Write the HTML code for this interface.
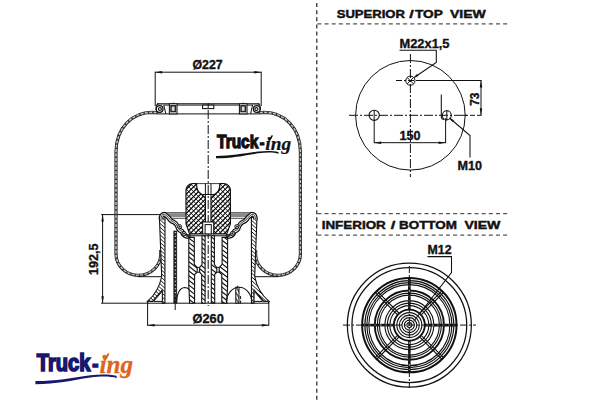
<!DOCTYPE html>
<html><head><meta charset="utf-8"><title>Truck-ing air spring</title>
<style>
html,body{margin:0;padding:0;background:#fff;}
body{width:600px;height:400px;overflow:hidden;}
svg{display:block;}
text{font-family:"Liberation Sans",Arial,sans-serif;font-weight:bold;fill:#111;stroke:#111;stroke-width:0.35px;}
</style></head><body>
<svg width="600" height="400" viewBox="0 0 600 400" stroke="#111" fill="none" stroke-linecap="butt">
<defs>
<pattern id="h1" width="3" height="3" patternUnits="userSpaceOnUse" patternTransform="rotate(-45)"><rect width="3" height="3" fill="#fff" stroke="none"/><line x1="0" y1="1.5" x2="3" y2="1.5" stroke="#111" stroke-width="0.9"/></pattern>
<pattern id="h2" width="3.1" height="3.1" patternUnits="userSpaceOnUse" patternTransform="rotate(58)"><rect width="3.1" height="3.1" fill="#fff" stroke="none"/><line x1="0" y1="1.55" x2="3.1" y2="1.55" stroke="#111" stroke-width="1.0"/></pattern>
<pattern id="hx" width="3.4" height="3.4" patternUnits="userSpaceOnUse" patternTransform="rotate(-47)"><rect width="3.4" height="3.4" fill="#fff" stroke="none"/><line x1="0" y1="1.7" x2="3.4" y2="1.7" stroke="#000" stroke-width="1.15"/><line x1="1.7" y1="0" x2="1.7" y2="3.4" stroke="#000" stroke-width="0.6"/></pattern>
<pattern id="h1m" width="3" height="3" patternUnits="userSpaceOnUse" patternTransform="rotate(45)"><rect width="3" height="3" fill="#fff" stroke="none"/><line x1="0" y1="1.5" x2="3" y2="1.5" stroke="#111" stroke-width="0.9"/></pattern>
<pattern id="hw" width="2.4" height="2.4" patternUnits="userSpaceOnUse" patternTransform="rotate(-35)"><rect width="2.4" height="2.4" fill="#fff" stroke="none"/><line x1="0" y1="1.2" x2="2.4" y2="1.2" stroke="#333" stroke-width="0.6"/></pattern>
</defs>
<g stroke="#222" stroke-dasharray="4 3.143">
<line x1="316.80" y1="3.00" x2="316.80" y2="400.00" stroke-width="1.2" />
</g>
<g stroke="#555" stroke-width="1.25" stroke-dasharray="4 3.143">
<line x1="317.40" y1="23.80" x2="508.00" y2="23.80" stroke-width="1.25" />
<line x1="317.40" y1="213.60" x2="508.00" y2="213.60" stroke-width="1.25" />
<line x1="317.40" y1="235.00" x2="508.00" y2="235.00" stroke-width="1.25" />
</g>
<text font-size="11.6" style="stroke:#111;stroke-width:0.45px"><tspan x="336.70" y="17.50" textLength="68.30" lengthAdjust="spacingAndGlyphs">SUPERIOR</tspan> <tspan x="409.20" y="17.50" textLength="4.50" lengthAdjust="spacingAndGlyphs">/</tspan> <tspan x="415.00" y="17.50" textLength="27.50" lengthAdjust="spacingAndGlyphs">TOP</tspan> <tspan x="450.00" y="17.50" textLength="35.80" lengthAdjust="spacingAndGlyphs">VIEW</tspan></text>
<text font-size="11.6" style="stroke:#111;stroke-width:0.45px"><tspan x="321.70" y="229.20" textLength="64.10" lengthAdjust="spacingAndGlyphs">INFERIOR</tspan> <tspan x="390.80" y="229.20" textLength="4.60" lengthAdjust="spacingAndGlyphs">/</tspan> <tspan x="399.00" y="229.20" textLength="58.00" lengthAdjust="spacingAndGlyphs">BOTTOM</tspan> <tspan x="464.40" y="229.20" textLength="36.00" lengthAdjust="spacingAndGlyphs">VIEW</tspan></text>
<circle cx="410.4" cy="115.3" r="54.8" stroke-width="1"/>
<line x1="410.40" y1="54.00" x2="410.40" y2="177.00" stroke-width="1.0" stroke-dasharray="9 2 2 2"/>
<line x1="349.00" y1="115.30" x2="467.00" y2="115.30" stroke-width="1.0" stroke-dasharray="9 2 2 2"/>
<circle cx="410.4" cy="80.7" r="4.6" stroke-width="1"/>
<line x1="407.20" y1="77.50" x2="413.60" y2="83.90" stroke-width="1.0" />
<line x1="407.20" y1="83.90" x2="413.60" y2="77.50" stroke-width="1.0" />
<circle cx="374.2" cy="115.3" r="5.1" stroke-width="1.1"/>
<circle cx="446.8" cy="115.3" r="4.5" stroke-width="1.1"/>
<line x1="396.00" y1="80.50" x2="418.00" y2="80.50" stroke-width="1.0" stroke-dasharray="6 2 2 2"/>
<line x1="418.00" y1="80.50" x2="481.50" y2="80.50" stroke-width="1.0" />
<line x1="463.00" y1="115.30" x2="481.50" y2="115.30" stroke-width="1.0" stroke-dasharray="5 2"/>
<line x1="481.00" y1="80.50" x2="481.00" y2="115.30" stroke-width="1.0" />
<polygon points="481.00,80.50 482.25,87.50 479.75,87.50" fill="#111" stroke="none"/>
<polygon points="481.00,115.30 479.75,108.30 482.25,108.30" fill="#111" stroke="none"/>
<text transform="translate(478.5,99.2) rotate(-90)" font-size="12.4" text-anchor="middle" textLength="13.2" lengthAdjust="spacingAndGlyphs">73</text>
<text x="399.50" y="47.60" font-size="12.6" text-anchor="start" textLength="50" lengthAdjust="spacingAndGlyphs">M22x1,5</text>
<path d="M399.5 50.3 H436.3 V62.5 L414.5 77.2" stroke-width="1.05" fill="none" />
<polygon points="413.60,77.80 417.07,74.01 418.42,76.00" fill="#111" stroke="none"/>
<line x1="374.20" y1="110.10" x2="374.20" y2="143.20" stroke-width="1.0" />
<line x1="445.60" y1="118.30" x2="445.60" y2="143.20" stroke-width="1.0" />
<line x1="446.80" y1="110.30" x2="446.80" y2="120.80" stroke-width="1.0" />
<line x1="374.20" y1="142.70" x2="445.60" y2="142.70" stroke-width="1.0" />
<polygon points="374.20,142.70 381.20,141.45 381.20,143.95" fill="#111" stroke="none"/>
<polygon points="445.60,142.70 438.60,143.95 438.60,141.45" fill="#111" stroke="none"/>
<text x="399.50" y="140.00" font-size="12.6" text-anchor="start" textLength="21" lengthAdjust="spacingAndGlyphs">150</text>
<path d="M441.3 94.5 V117 Q441.6 119.5 444 119.6" stroke-width="1.05" fill="none" />
<path d="M449.5 118 L470 135.5 V157.5" stroke-width="1.05" fill="none" />
<polygon points="449.30,117.80 453.88,120.13 452.32,121.96" fill="#111" stroke="none"/>
<text x="457.50" y="169.50" font-size="12.6" text-anchor="start" textLength="24.5" lengthAdjust="spacingAndGlyphs">M10</text>
<circle cx="409.35" cy="325.1" r="62.0" stroke-width="1.25"/>
<circle cx="409.35" cy="325.1" r="57.4" stroke-width="1.25"/>
<circle cx="409.35" cy="325.1" r="47.2" stroke-width="2.0"/>
<circle cx="409.35" cy="325.1" r="44.5" stroke-width="1.1"/>
<circle cx="409.35" cy="325.1" r="42.5" stroke-width="1.1"/>
<circle cx="409.35" cy="325.1" r="40.5" stroke-width="1.1"/>
<circle cx="409.35" cy="325.1" r="34.6" stroke-width="1.9"/>
<circle cx="409.35" cy="325.1" r="32.0" stroke-width="1.1"/>
<circle cx="409.35" cy="325.1" r="30.0" stroke-width="1.1"/>
<circle cx="409.35" cy="325.1" r="24.5" stroke-width="1.1"/>
<circle cx="409.35" cy="325.1" r="22.0" stroke-width="1.1"/>
<circle cx="409.35" cy="325.1" r="19.5" stroke-width="1.1"/>
<circle cx="409.35" cy="325.1" r="15.5" stroke-width="1.9"/>
<circle cx="409.35" cy="325.1" r="12.5" stroke-width="1.1"/>
<circle cx="409.35" cy="325.1" r="10.0" stroke-width="1.1"/>
<circle cx="409.35" cy="325.1" r="7.5" stroke-width="1.1"/>
<circle cx="409.35" cy="325.1" r="5.0" stroke-width="1.1"/>
<circle cx="409.35" cy="325.1" r="2.5" stroke-width="1.05"/>
<line x1="421.44" y1="335.64" x2="443.50" y2="357.70" stroke-width="1.1" />
<line x1="419.89" y1="337.19" x2="441.95" y2="359.25" stroke-width="1.1" />
<line x1="398.81" y1="337.19" x2="376.75" y2="359.25" stroke-width="1.1" />
<line x1="397.26" y1="335.64" x2="375.20" y2="357.70" stroke-width="1.1" />
<line x1="397.26" y1="314.56" x2="375.20" y2="292.50" stroke-width="1.1" />
<line x1="398.81" y1="313.01" x2="376.75" y2="290.95" stroke-width="1.1" />
<line x1="419.89" y1="313.01" x2="441.95" y2="290.95" stroke-width="1.1" />
<line x1="421.44" y1="314.56" x2="443.50" y2="292.50" stroke-width="1.1" />
<line x1="424.85" y1="325.10" x2="456.55" y2="325.10" stroke-width="2.6" />
<line x1="426.35" y1="325.10" x2="454.35" y2="325.10" stroke-width="0.7" stroke="#fff" stroke-dasharray="2.2 3.2"/>
<line x1="409.35" y1="340.60" x2="409.35" y2="372.30" stroke-width="2.6" />
<line x1="409.35" y1="342.10" x2="409.35" y2="370.10" stroke-width="0.7" stroke="#fff" stroke-dasharray="2.2 3.2"/>
<line x1="393.85" y1="325.10" x2="362.15" y2="325.10" stroke-width="2.6" />
<line x1="392.35" y1="325.10" x2="364.35" y2="325.10" stroke-width="0.7" stroke="#fff" stroke-dasharray="2.2 3.2"/>
<line x1="409.35" y1="309.60" x2="409.35" y2="277.90" stroke-width="2.6" />
<line x1="409.35" y1="308.10" x2="409.35" y2="280.10" stroke-width="0.7" stroke="#fff" stroke-dasharray="2.2 3.2"/>
<line x1="409.35" y1="266.00" x2="409.35" y2="388.00" stroke-width="1.0" stroke-dasharray="7 2 2 2"/>
<line x1="343.00" y1="325.10" x2="476.00" y2="325.10" stroke-width="1.0" stroke-dasharray="7 2 2 2"/>
<line x1="407.75" y1="323.50" x2="410.95" y2="326.70" stroke-width="0.6" />
<line x1="407.75" y1="326.70" x2="410.95" y2="323.50" stroke-width="0.6" />
<text x="427.50" y="254.00" font-size="12.6" text-anchor="start" textLength="24" lengthAdjust="spacingAndGlyphs">M12</text>
<path d="M427.5 256.6 H451.5 V272.5 L413.5 321.5" stroke-width="1.05" fill="none" />
<line x1="155.20" y1="71.70" x2="155.20" y2="106.00" stroke-width="1.0" />
<line x1="261.20" y1="71.70" x2="261.20" y2="106.00" stroke-width="1.0" />
<line x1="155.20" y1="72.20" x2="261.20" y2="72.20" stroke-width="1.0" />
<polygon points="155.20,72.20 162.20,70.95 162.20,73.45" fill="#111" stroke="none"/>
<polygon points="261.20,72.20 254.20,73.45 254.20,70.95" fill="#111" stroke="none"/>
<text x="207.6" y="69.0" font-size="12.6" text-anchor="middle" textLength="30.2" lengthAdjust="spacingAndGlyphs">Ø227</text>
<line x1="147.60" y1="301.00" x2="147.60" y2="325.70" stroke-width="1.0" />
<line x1="268.80" y1="301.00" x2="268.80" y2="325.70" stroke-width="1.0" />
<line x1="147.60" y1="325.20" x2="268.80" y2="325.20" stroke-width="1.0" />
<polygon points="147.60,325.20 154.60,323.95 154.60,326.45" fill="#111" stroke="none"/>
<polygon points="268.80,325.20 261.80,326.45 261.80,323.95" fill="#111" stroke="none"/>
<text x="208.2" y="322.6" font-size="12.6" text-anchor="middle" textLength="31.2" lengthAdjust="spacingAndGlyphs">Ø260</text>
<line x1="101.20" y1="214.60" x2="162.00" y2="214.60" stroke-width="1.0" />
<line x1="101.20" y1="303.20" x2="147.60" y2="303.20" stroke-width="1.0" />
<line x1="102.60" y1="214.60" x2="102.60" y2="303.20" stroke-width="1.0" />
<polygon points="102.60,214.60 103.85,221.60 101.35,221.60" fill="#111" stroke="none"/>
<polygon points="102.60,303.20 101.35,296.20 103.85,296.20" fill="#111" stroke="none"/>
<text transform="translate(98.2,259.3) rotate(-90)" font-size="12.6" text-anchor="middle" textLength="31.5" lengthAdjust="spacingAndGlyphs">192,5</text>
<path d="M158.00,112.80 L152.00,112.30 C133.00,112.30 116.00,127.00 116.00,152.00 L116.00,254.00 A22.4,21.3 0 0 0 138.40,275.30 A22.4,21.3 0 0 0 160.80,254.00 L160.80,250.00" stroke="#222" stroke-width="3.2" fill="none"/>
<path d="M158.00,112.80 L152.00,112.30 C133.00,112.30 116.00,127.00 116.00,152.00 L116.00,254.00 A22.4,21.3 0 0 0 138.40,275.30 A22.4,21.3 0 0 0 160.80,254.00 L160.80,250.00" stroke="#c4c4c4" stroke-width="1.5" fill="none"/>
<path d="M158.00,112.80 L152.00,112.30 C133.00,112.30 116.00,127.00 116.00,152.00 L116.00,254.00 A22.4,21.3 0 0 0 138.40,275.30 A22.4,21.3 0 0 0 160.80,254.00 L160.80,250.00" stroke="#222" stroke-width="1.7" fill="none" stroke-dasharray="1.4 3.0"/>
<line x1="138.00" y1="276.70" x2="161.50" y2="276.70" stroke-width="1.0" />
<path d="M258.40,112.80 L264.40,112.30 C283.40,112.30 300.40,127.00 300.40,152.00 L300.40,254.00 A22.4,21.3 0 0 1 278.00,275.30 A22.4,21.3 0 0 1 255.60,254.00 L255.60,250.00" stroke="#222" stroke-width="3.2" fill="none"/>
<path d="M258.40,112.80 L264.40,112.30 C283.40,112.30 300.40,127.00 300.40,152.00 L300.40,254.00 A22.4,21.3 0 0 1 278.00,275.30 A22.4,21.3 0 0 1 255.60,254.00 L255.60,250.00" stroke="#c4c4c4" stroke-width="1.5" fill="none"/>
<path d="M258.40,112.80 L264.40,112.30 C283.40,112.30 300.40,127.00 300.40,152.00 L300.40,254.00 A22.4,21.3 0 0 1 278.00,275.30 A22.4,21.3 0 0 1 255.60,254.00 L255.60,250.00" stroke="#222" stroke-width="1.7" fill="none" stroke-dasharray="1.4 3.0"/>
<line x1="278.40" y1="276.70" x2="254.90" y2="276.70" stroke-width="1.0" />
<line x1="157.00" y1="103.80" x2="259.40" y2="103.80" stroke-width="1.3" />
<line x1="164.00" y1="105.30" x2="252.40" y2="105.30" stroke-width="0.7" />
<line x1="158.00" y1="113.90" x2="258.40" y2="113.90" stroke-width="1.0" />
<circle cx="159.60" cy="109" r="3.4" stroke-width="1.3" fill="#fff"/>
<circle cx="159.90" cy="109" r="1.5" stroke-width="1.1" fill="#ddd"/>
<path d="M156.20,110 Q155.60,104.2 158.50,103.8" stroke-width="1.05" fill="none" />
<line x1="163.80" y1="105.00" x2="165.80" y2="113.90" stroke-width="1.0" />
<rect x="169.40" y="103.8" width="7.60" height="10.1" stroke-width="1.05" fill="#fff"/>
<rect x="171.00" y="105.8" width="4.40" height="5.8" stroke-width="1.5" stroke="#222" fill="#ddd"/>
<line x1="173.20" y1="102.60" x2="173.20" y2="104.00" stroke-width="1.0" />
<circle cx="256.80" cy="109" r="3.4" stroke-width="1.3" fill="#fff"/>
<circle cx="256.50" cy="109" r="1.5" stroke-width="1.1" fill="#ddd"/>
<path d="M260.20,110 Q260.80,104.2 257.90,103.8" stroke-width="1.05" fill="none" />
<line x1="252.60" y1="105.00" x2="250.60" y2="113.90" stroke-width="1.0" />
<rect x="239.40" y="103.8" width="7.60" height="10.1" stroke-width="1.05" fill="#fff"/>
<rect x="241.00" y="105.8" width="4.40" height="5.8" stroke-width="1.5" stroke="#222" fill="#ddd"/>
<line x1="243.20" y1="102.60" x2="243.20" y2="104.00" stroke-width="1.0" />
<rect x="202.6" y="105.1" width="11.2" height="3.5" stroke-width="1.05" fill="#fff"/>
<line x1="208.20" y1="103.00" x2="208.20" y2="108.60" stroke-width="1.0" />
<line x1="208.20" y1="110.00" x2="208.20" y2="306.00" stroke-width="1.0" stroke-dasharray="9 2 2 2"/>
<path d="M159.50,219.50 Q159.50,213.40 163.60,213.00 L165.00,218.00 L164.90,303.20 L162.30,303.20 L162.30,290.00 L152.60,301.40 L147.60,301.20 Q158.50,292.00 161.70,276.50 Z" fill="#fff" stroke="none"/>
<clipPath id="c1"><path d="M159.50,219.50 Q159.50,213.40 163.60,213.00 L165.00,218.00 L164.90,303.20 L162.30,303.20 L162.30,290.00 L152.60,301.40 L147.60,301.20 Q158.50,292.00 161.70,276.50 Z"/></clipPath>
<g clip-path="url(#c1)" stroke="#111" stroke-width="0.95"><line x1="153.83" y1="187.78" x2="226.62" y2="253.31"/><line x1="151.96" y1="189.86" x2="224.74" y2="255.39"/><line x1="150.08" y1="191.94" x2="222.87" y2="257.47"/><line x1="148.21" y1="194.02" x2="221.00" y2="259.56"/><line x1="146.34" y1="196.10" x2="219.12" y2="261.64"/><line x1="144.46" y1="198.18" x2="217.25" y2="263.72"/><line x1="142.59" y1="200.26" x2="215.38" y2="265.80"/><line x1="140.72" y1="202.34" x2="213.50" y2="267.88"/><line x1="138.84" y1="204.42" x2="211.63" y2="269.96"/><line x1="136.97" y1="206.50" x2="209.75" y2="272.04"/><line x1="135.10" y1="208.59" x2="207.88" y2="274.12"/><line x1="133.22" y1="210.67" x2="206.01" y2="276.20"/><line x1="131.35" y1="212.75" x2="204.13" y2="278.28"/><line x1="129.48" y1="214.83" x2="202.26" y2="280.36"/><line x1="127.60" y1="216.91" x2="200.39" y2="282.44"/><line x1="125.73" y1="218.99" x2="198.51" y2="284.53"/><line x1="123.85" y1="221.07" x2="196.64" y2="286.61"/><line x1="121.98" y1="223.15" x2="194.77" y2="288.69"/><line x1="120.11" y1="225.23" x2="192.89" y2="290.77"/><line x1="118.23" y1="227.31" x2="191.02" y2="292.85"/><line x1="116.36" y1="229.39" x2="189.15" y2="294.93"/><line x1="114.49" y1="231.47" x2="187.27" y2="297.01"/><line x1="112.61" y1="233.56" x2="185.40" y2="299.09"/><line x1="110.74" y1="235.64" x2="183.52" y2="301.17"/><line x1="108.87" y1="237.72" x2="181.65" y2="303.25"/><line x1="106.99" y1="239.80" x2="179.78" y2="305.33"/><line x1="105.12" y1="241.88" x2="177.90" y2="307.41"/><line x1="103.25" y1="243.96" x2="176.03" y2="309.50"/><line x1="101.37" y1="246.04" x2="174.16" y2="311.58"/><line x1="99.50" y1="248.12" x2="172.28" y2="313.66"/><line x1="97.62" y1="250.20" x2="170.41" y2="315.74"/><line x1="95.75" y1="252.28" x2="168.54" y2="317.82"/><line x1="93.88" y1="254.36" x2="166.66" y2="319.90"/><line x1="92.00" y1="256.44" x2="164.79" y2="321.98"/><line x1="90.13" y1="258.53" x2="162.92" y2="324.06"/><line x1="88.26" y1="260.61" x2="161.04" y2="326.14"/></g>
<path d="M159.50,219.50 Q159.50,213.40 163.60,213.00 L165.00,218.00 L164.90,303.20 L162.30,303.20 L162.30,290.00 L152.60,301.40 L147.60,301.20 Q158.50,292.00 161.70,276.50 Z" fill="none" stroke-width="1.1"/>
<path d="M162.30,291.20 L162.30,301.40 L153.60,301.40 Z" fill="#fff" stroke-width="1.0"/>
<line x1="147.60" y1="301.20" x2="147.60" y2="303.20" stroke-width="1.05" />
<path d="M256.90,219.50 Q256.90,213.40 252.80,213.00 L251.40,218.00 L251.50,303.20 L254.10,303.20 L254.10,290.00 L263.80,301.40 L268.80,301.20 Q257.90,292.00 254.70,276.50 Z" fill="#fff" stroke="none"/>
<clipPath id="c2"><path d="M256.90,219.50 Q256.90,213.40 252.80,213.00 L251.40,218.00 L251.50,303.20 L254.10,303.20 L254.10,290.00 L263.80,301.40 L268.80,301.20 Q257.90,292.00 254.70,276.50 Z"/></clipPath>
<g clip-path="url(#c2)" stroke="#111" stroke-width="0.95"><line x1="257.23" y1="187.78" x2="330.02" y2="253.31"/><line x1="255.36" y1="189.86" x2="328.14" y2="255.39"/><line x1="253.48" y1="191.94" x2="326.27" y2="257.47"/><line x1="251.61" y1="194.02" x2="324.40" y2="259.56"/><line x1="249.74" y1="196.10" x2="322.52" y2="261.64"/><line x1="247.86" y1="198.18" x2="320.65" y2="263.72"/><line x1="245.99" y1="200.26" x2="318.78" y2="265.80"/><line x1="244.12" y1="202.34" x2="316.90" y2="267.88"/><line x1="242.24" y1="204.42" x2="315.03" y2="269.96"/><line x1="240.37" y1="206.50" x2="313.15" y2="272.04"/><line x1="238.50" y1="208.59" x2="311.28" y2="274.12"/><line x1="236.62" y1="210.67" x2="309.41" y2="276.20"/><line x1="234.75" y1="212.75" x2="307.53" y2="278.28"/><line x1="232.88" y1="214.83" x2="305.66" y2="280.36"/><line x1="231.00" y1="216.91" x2="303.79" y2="282.44"/><line x1="229.13" y1="218.99" x2="301.91" y2="284.53"/><line x1="227.25" y1="221.07" x2="300.04" y2="286.61"/><line x1="225.38" y1="223.15" x2="298.17" y2="288.69"/><line x1="223.51" y1="225.23" x2="296.29" y2="290.77"/><line x1="221.63" y1="227.31" x2="294.42" y2="292.85"/><line x1="219.76" y1="229.39" x2="292.55" y2="294.93"/><line x1="217.89" y1="231.47" x2="290.67" y2="297.01"/><line x1="216.01" y1="233.56" x2="288.80" y2="299.09"/><line x1="214.14" y1="235.64" x2="286.92" y2="301.17"/><line x1="212.27" y1="237.72" x2="285.05" y2="303.25"/><line x1="210.39" y1="239.80" x2="283.18" y2="305.33"/><line x1="208.52" y1="241.88" x2="281.30" y2="307.41"/><line x1="206.65" y1="243.96" x2="279.43" y2="309.50"/><line x1="204.77" y1="246.04" x2="277.56" y2="311.58"/><line x1="202.90" y1="248.12" x2="275.68" y2="313.66"/><line x1="201.02" y1="250.20" x2="273.81" y2="315.74"/><line x1="199.15" y1="252.28" x2="271.94" y2="317.82"/><line x1="197.28" y1="254.36" x2="270.06" y2="319.90"/><line x1="195.40" y1="256.44" x2="268.19" y2="321.98"/><line x1="193.53" y1="258.53" x2="266.32" y2="324.06"/><line x1="191.66" y1="260.61" x2="264.44" y2="326.14"/></g>
<path d="M256.90,219.50 Q256.90,213.40 252.80,213.00 L251.40,218.00 L251.50,303.20 L254.10,303.20 L254.10,290.00 L263.80,301.40 L268.80,301.20 Q257.90,292.00 254.70,276.50 Z" fill="none" stroke-width="1.1"/>
<path d="M254.10,291.20 L254.10,301.40 L262.80,301.40 Z" fill="#fff" stroke-width="1.0"/>
<line x1="268.80" y1="301.20" x2="268.80" y2="303.20" stroke-width="1.05" />
<line x1="147.60" y1="303.20" x2="268.80" y2="303.20" stroke-width="1.0" />
<line x1="163.60" y1="212.90" x2="186.40" y2="212.90" stroke-width="1.0" />
<rect x="167.50" y="213.3" width="18.90" height="3.9" fill="#8a8a8a" stroke="none"/>
<line x1="169.00" y1="218.40" x2="186.40" y2="218.40" stroke-width="0.7" />
<path d="M161.00,219.50 Q160.80,214.20 164.60,214.20 L168.50,217.60 Q171.00,221.40 173.40,221.80 Q176.60,223.60 177.60,226.60 Q178.60,230.40 181.80,231.00 Q183.40,235.80 187.00,236.40 L190.50,236.60" stroke="#111" stroke-width="4.8" fill="none" stroke-linejoin="round"/>
<path d="M161.00,219.50 Q160.80,214.20 164.60,214.20 L168.50,217.60 Q171.00,221.40 173.40,221.80 Q176.60,223.60 177.60,226.60 Q178.60,230.40 181.80,231.00 Q183.40,235.80 187.00,236.40 L190.50,236.60" stroke="#fff" stroke-width="2.3" fill="none" stroke-linejoin="round"/>
<path d="M161.00,219.50 Q160.80,214.20 164.60,214.20 L168.50,217.60 Q171.00,221.40 173.40,221.80 Q176.60,223.60 177.60,226.60 Q178.60,230.40 181.80,231.00 Q183.40,235.80 187.00,236.40 L190.50,236.60" stroke="#222" stroke-width="0.9" fill="none"/>
<circle cx="179.60" cy="226.6" r="2.0" stroke-width="1.0" fill="#fff"/>
<circle cx="179.60" cy="226.6" r="0.7" stroke-width="0.8" fill="#555"/>
<circle cx="184.00" cy="233.4" r="2.0" stroke-width="1.0" fill="#fff"/>
<circle cx="184.00" cy="233.4" r="0.7" stroke-width="0.8" fill="#555"/>
<line x1="252.80" y1="212.90" x2="230.00" y2="212.90" stroke-width="1.0" />
<rect x="230.00" y="213.3" width="18.90" height="3.9" fill="#8a8a8a" stroke="none"/>
<line x1="247.40" y1="218.40" x2="230.00" y2="218.40" stroke-width="0.7" />
<path d="M255.40,219.50 Q255.60,214.20 251.80,214.20 L247.90,217.60 Q245.40,221.40 243.00,221.80 Q239.80,223.60 238.80,226.60 Q237.80,230.40 234.60,231.00 Q233.00,235.80 229.40,236.40 L225.90,236.60" stroke="#111" stroke-width="4.8" fill="none" stroke-linejoin="round"/>
<path d="M255.40,219.50 Q255.60,214.20 251.80,214.20 L247.90,217.60 Q245.40,221.40 243.00,221.80 Q239.80,223.60 238.80,226.60 Q237.80,230.40 234.60,231.00 Q233.00,235.80 229.40,236.40 L225.90,236.60" stroke="#fff" stroke-width="2.3" fill="none" stroke-linejoin="round"/>
<path d="M255.40,219.50 Q255.60,214.20 251.80,214.20 L247.90,217.60 Q245.40,221.40 243.00,221.80 Q239.80,223.60 238.80,226.60 Q237.80,230.40 234.60,231.00 Q233.00,235.80 229.40,236.40 L225.90,236.60" stroke="#222" stroke-width="0.9" fill="none"/>
<circle cx="236.80" cy="226.6" r="2.0" stroke-width="1.0" fill="#fff"/>
<circle cx="236.80" cy="226.6" r="0.7" stroke-width="0.8" fill="#555"/>
<circle cx="232.40" cy="233.4" r="2.0" stroke-width="1.0" fill="#fff"/>
<circle cx="232.40" cy="233.4" r="0.7" stroke-width="0.8" fill="#555"/>
<path d="M189.60,233.90 L186.00,224.00 L186.00,189.60 Q186.80,184.00 193.00,183.50 L196.50,183.50 Q196.40,192.00 202.00,194.50 L205.40,198.00 L205.40,222.00 L202.70,222.00 L202.70,233.90 Z" fill="#fff" stroke="none"/>
<clipPath id="c3"><path d="M189.60,233.90 L186.00,224.00 L186.00,189.60 Q186.80,184.00 193.00,183.50 L196.50,183.50 Q196.40,192.00 202.00,194.50 L205.40,198.00 L205.40,222.00 L202.70,222.00 L202.70,233.90 Z"/></clipPath>
<g clip-path="url(#c3)" stroke="#000" stroke-width="1.2"><line x1="153.58" y1="207.64" x2="195.14" y2="166.08"/><line x1="155.98" y1="210.05" x2="197.55" y2="168.48"/><line x1="158.39" y1="212.45" x2="199.95" y2="170.89"/><line x1="160.79" y1="214.86" x2="202.36" y2="173.29"/><line x1="163.20" y1="217.26" x2="204.76" y2="175.70"/><line x1="165.60" y1="219.67" x2="207.17" y2="178.10"/><line x1="168.01" y1="222.07" x2="209.57" y2="180.51"/><line x1="170.41" y1="224.47" x2="211.97" y2="182.91"/><line x1="172.81" y1="226.88" x2="214.38" y2="185.31"/><line x1="175.22" y1="229.28" x2="216.78" y2="187.72"/><line x1="177.62" y1="231.69" x2="219.19" y2="190.12"/><line x1="180.03" y1="234.09" x2="221.59" y2="192.53"/><line x1="182.43" y1="236.49" x2="223.99" y2="194.93"/><line x1="184.83" y1="238.90" x2="226.40" y2="197.33"/><line x1="187.24" y1="241.30" x2="228.80" y2="199.74"/><line x1="189.64" y1="243.71" x2="231.21" y2="202.14"/><line x1="192.05" y1="246.11" x2="233.61" y2="204.55"/><line x1="194.45" y1="248.52" x2="236.02" y2="206.95"/></g>
<clipPath id="c4"><path d="M189.60,233.90 L186.00,224.00 L186.00,189.60 Q186.80,184.00 193.00,183.50 L196.50,183.50 Q196.40,192.00 202.00,194.50 L205.40,198.00 L205.40,222.00 L202.70,222.00 L202.70,233.90 Z"/></clipPath>
<g clip-path="url(#c4)" stroke="#000" stroke-width="0.85"><line x1="196.86" y1="166.08" x2="238.42" y2="207.64"/><line x1="194.45" y1="168.48" x2="236.02" y2="210.05"/><line x1="192.05" y1="170.89" x2="233.61" y2="212.45"/><line x1="189.64" y1="173.29" x2="231.21" y2="214.86"/><line x1="187.24" y1="175.70" x2="228.80" y2="217.26"/><line x1="184.83" y1="178.10" x2="226.40" y2="219.67"/><line x1="182.43" y1="180.51" x2="223.99" y2="222.07"/><line x1="180.03" y1="182.91" x2="221.59" y2="224.47"/><line x1="177.62" y1="185.31" x2="219.19" y2="226.88"/><line x1="175.22" y1="187.72" x2="216.78" y2="229.28"/><line x1="172.81" y1="190.12" x2="214.38" y2="231.69"/><line x1="170.41" y1="192.53" x2="211.97" y2="234.09"/><line x1="168.01" y1="194.93" x2="209.57" y2="236.49"/><line x1="165.60" y1="197.33" x2="207.17" y2="238.90"/><line x1="163.20" y1="199.74" x2="204.76" y2="241.30"/><line x1="160.79" y1="202.14" x2="202.36" y2="243.71"/><line x1="158.39" y1="204.55" x2="199.95" y2="246.11"/><line x1="155.98" y1="206.95" x2="197.55" y2="248.52"/></g>
<path d="M189.60,233.90 L186.00,224.00 L186.00,189.60 Q186.80,184.00 193.00,183.50 L196.50,183.50 Q196.40,192.00 202.00,194.50 L205.40,198.00 L205.40,222.00 L202.70,222.00 L202.70,233.90 Z" fill="none" stroke-width="1.2"/>
<line x1="205.40" y1="183.50" x2="205.40" y2="198.00" stroke-width="1.0" />
<path d="M226.80,233.90 L230.40,224.00 L230.40,189.60 Q229.60,184.00 223.40,183.50 L219.90,183.50 Q220.00,192.00 214.40,194.50 L211.00,198.00 L211.00,222.00 L213.70,222.00 L213.70,233.90 Z" fill="#fff" stroke="none"/>
<clipPath id="c5"><path d="M226.80,233.90 L230.40,224.00 L230.40,189.60 Q229.60,184.00 223.40,183.50 L219.90,183.50 Q220.00,192.00 214.40,194.50 L211.00,198.00 L211.00,222.00 L213.70,222.00 L213.70,233.90 Z"/></clipPath>
<g clip-path="url(#c5)" stroke="#000" stroke-width="1.2"><line x1="177.98" y1="207.64" x2="219.54" y2="166.08"/><line x1="180.38" y1="210.05" x2="221.95" y2="168.48"/><line x1="182.79" y1="212.45" x2="224.35" y2="170.89"/><line x1="185.19" y1="214.86" x2="226.76" y2="173.29"/><line x1="187.60" y1="217.26" x2="229.16" y2="175.70"/><line x1="190.00" y1="219.67" x2="231.57" y2="178.10"/><line x1="192.41" y1="222.07" x2="233.97" y2="180.51"/><line x1="194.81" y1="224.47" x2="236.37" y2="182.91"/><line x1="197.21" y1="226.88" x2="238.78" y2="185.31"/><line x1="199.62" y1="229.28" x2="241.18" y2="187.72"/><line x1="202.02" y1="231.69" x2="243.59" y2="190.12"/><line x1="204.43" y1="234.09" x2="245.99" y2="192.53"/><line x1="206.83" y1="236.49" x2="248.39" y2="194.93"/><line x1="209.23" y1="238.90" x2="250.80" y2="197.33"/><line x1="211.64" y1="241.30" x2="253.20" y2="199.74"/><line x1="214.04" y1="243.71" x2="255.61" y2="202.14"/><line x1="216.45" y1="246.11" x2="258.01" y2="204.55"/><line x1="218.85" y1="248.52" x2="260.42" y2="206.95"/></g>
<clipPath id="c6"><path d="M226.80,233.90 L230.40,224.00 L230.40,189.60 Q229.60,184.00 223.40,183.50 L219.90,183.50 Q220.00,192.00 214.40,194.50 L211.00,198.00 L211.00,222.00 L213.70,222.00 L213.70,233.90 Z"/></clipPath>
<g clip-path="url(#c6)" stroke="#000" stroke-width="0.85"><line x1="221.26" y1="166.08" x2="262.82" y2="207.64"/><line x1="218.85" y1="168.48" x2="260.42" y2="210.05"/><line x1="216.45" y1="170.89" x2="258.01" y2="212.45"/><line x1="214.04" y1="173.29" x2="255.61" y2="214.86"/><line x1="211.64" y1="175.70" x2="253.20" y2="217.26"/><line x1="209.23" y1="178.10" x2="250.80" y2="219.67"/><line x1="206.83" y1="180.51" x2="248.39" y2="222.07"/><line x1="204.43" y1="182.91" x2="245.99" y2="224.47"/><line x1="202.02" y1="185.31" x2="243.59" y2="226.88"/><line x1="199.62" y1="187.72" x2="241.18" y2="229.28"/><line x1="197.21" y1="190.12" x2="238.78" y2="231.69"/><line x1="194.81" y1="192.53" x2="236.37" y2="234.09"/><line x1="192.41" y1="194.93" x2="233.97" y2="236.49"/><line x1="190.00" y1="197.33" x2="231.57" y2="238.90"/><line x1="187.60" y1="199.74" x2="229.16" y2="241.30"/><line x1="185.19" y1="202.14" x2="226.76" y2="243.71"/><line x1="182.79" y1="204.55" x2="224.35" y2="246.11"/><line x1="180.38" y1="206.95" x2="221.95" y2="248.52"/></g>
<path d="M226.80,233.90 L230.40,224.00 L230.40,189.60 Q229.60,184.00 223.40,183.50 L219.90,183.50 Q220.00,192.00 214.40,194.50 L211.00,198.00 L211.00,222.00 L213.70,222.00 L213.70,233.90 Z" fill="none" stroke-width="1.2"/>
<line x1="211.00" y1="183.50" x2="211.00" y2="198.00" stroke-width="1.0" />
<line x1="193.40" y1="183.60" x2="223.00" y2="183.60" stroke-width="0.8" />
<line x1="202.00" y1="194.50" x2="214.40" y2="194.50" stroke-width="1.05" />
<rect x="202.7" y="222.0" width="11.00" height="11.9" fill="#fff" stroke-width="1.0"/>
<rect x="205.1" y="224.6" width="6.20" height="9.3" fill="#fff" stroke-width="1.0"/>
<line x1="186.30" y1="235.70" x2="230.10" y2="235.70" stroke-width="1.05" />
<path d="M188.80,237.40 L194.30,237.40 L194.30,264.50 L197.20,267.40 L197.20,272.20 L194.60,274.50 L194.60,303.20 L189.60,303.20 L188.80,285.00 Z" fill="#fff" stroke="none"/>
<clipPath id="c7"><path d="M188.80,237.40 L194.30,237.40 L194.30,264.50 L197.20,267.40 L197.20,272.20 L194.60,274.50 L194.60,303.20 L189.60,303.20 L188.80,285.00 Z"/></clipPath>
<g clip-path="url(#c7)" stroke="#111" stroke-width="1.15"><line x1="186.73" y1="217.65" x2="244.83" y2="263.04"/><line x1="184.46" y1="220.57" x2="242.55" y2="265.95"/><line x1="182.18" y1="223.48" x2="240.27" y2="268.87"/><line x1="179.90" y1="226.40" x2="237.99" y2="271.78"/><line x1="177.62" y1="229.31" x2="235.71" y2="274.70"/><line x1="175.34" y1="232.23" x2="233.44" y2="277.62"/><line x1="173.07" y1="235.14" x2="231.16" y2="280.53"/><line x1="170.79" y1="238.06" x2="228.88" y2="283.45"/><line x1="168.51" y1="240.98" x2="226.60" y2="286.36"/><line x1="166.23" y1="243.89" x2="224.32" y2="289.28"/><line x1="163.95" y1="246.81" x2="222.05" y2="292.19"/><line x1="161.68" y1="249.72" x2="219.77" y2="295.11"/><line x1="159.40" y1="252.64" x2="217.49" y2="298.02"/><line x1="157.12" y1="255.55" x2="215.21" y2="300.94"/><line x1="154.84" y1="258.47" x2="212.93" y2="303.86"/><line x1="152.56" y1="261.38" x2="210.66" y2="306.77"/><line x1="150.29" y1="264.30" x2="208.38" y2="309.69"/><line x1="148.01" y1="267.22" x2="206.10" y2="312.60"/><line x1="145.73" y1="270.13" x2="203.82" y2="315.52"/><line x1="143.45" y1="273.05" x2="201.54" y2="318.43"/></g>
<path d="M188.80,237.40 L194.30,237.40 L194.30,264.50 L197.20,267.40 L197.20,272.20 L194.60,274.50 L194.60,303.20 L189.60,303.20 L188.80,285.00 Z" fill="none" stroke-width="1.1"/>
<path d="M202.00,235.80 L205.10,235.80 L205.10,303.20 L201.70,303.20 L201.70,274.50 L199.60,272.20 L199.60,267.40 L202.00,264.50 Z" fill="#fff" stroke="none"/>
<clipPath id="c8"><path d="M202.00,235.80 L205.10,235.80 L205.10,303.20 L201.70,303.20 L201.70,274.50 L199.60,272.20 L199.60,267.40 L202.00,264.50 Z"/></clipPath>
<g clip-path="url(#c8)" stroke="#111" stroke-width="1.1"><line x1="197.24" y1="216.66" x2="255.04" y2="261.82"/><line x1="195.02" y1="219.50" x2="252.83" y2="264.66"/><line x1="192.81" y1="222.33" x2="250.61" y2="267.49"/><line x1="190.59" y1="225.17" x2="248.39" y2="270.33"/><line x1="188.37" y1="228.01" x2="246.18" y2="273.17"/><line x1="186.16" y1="230.84" x2="243.96" y2="276.01"/><line x1="183.94" y1="233.68" x2="241.75" y2="278.84"/><line x1="181.72" y1="236.52" x2="239.53" y2="281.68"/><line x1="179.51" y1="239.35" x2="237.31" y2="284.52"/><line x1="177.29" y1="242.19" x2="235.10" y2="287.35"/><line x1="175.08" y1="245.03" x2="232.88" y2="290.19"/><line x1="172.86" y1="247.86" x2="230.66" y2="293.03"/><line x1="170.64" y1="250.70" x2="228.45" y2="295.86"/><line x1="168.43" y1="253.54" x2="226.23" y2="298.70"/><line x1="166.21" y1="256.38" x2="224.01" y2="301.54"/><line x1="163.99" y1="259.21" x2="221.80" y2="304.37"/><line x1="161.78" y1="262.05" x2="219.58" y2="307.21"/><line x1="159.56" y1="264.89" x2="217.36" y2="310.05"/><line x1="157.34" y1="267.72" x2="215.15" y2="312.88"/><line x1="155.13" y1="270.56" x2="212.93" y2="315.72"/><line x1="152.91" y1="273.40" x2="210.72" y2="318.56"/><line x1="150.70" y1="276.23" x2="208.50" y2="321.39"/></g>
<path d="M202.00,235.80 L205.10,235.80 L205.10,303.20 L201.70,303.20 L201.70,274.50 L199.60,272.20 L199.60,267.40 L202.00,264.50 Z" fill="none" stroke-width="1.1"/>
<line x1="197.20" y1="267.40" x2="199.60" y2="267.40" stroke-width="1.0" />
<line x1="197.20" y1="272.20" x2="199.60" y2="272.20" stroke-width="1.0" />
<path d="M227.60,237.40 L222.10,237.40 L222.10,264.50 L219.20,267.40 L219.20,272.20 L221.80,274.50 L221.80,303.20 L226.80,303.20 L227.60,285.00 Z" fill="#fff" stroke="none"/>
<clipPath id="c9"><path d="M227.60,237.40 L222.10,237.40 L222.10,264.50 L219.20,267.40 L219.20,272.20 L221.80,274.50 L221.80,303.20 L226.80,303.20 L227.60,285.00 Z"/></clipPath>
<g clip-path="url(#c9)" stroke="#111" stroke-width="1.15"><line x1="217.13" y1="217.65" x2="275.23" y2="263.04"/><line x1="214.86" y1="220.57" x2="272.95" y2="265.95"/><line x1="212.58" y1="223.48" x2="270.67" y2="268.87"/><line x1="210.30" y1="226.40" x2="268.39" y2="271.78"/><line x1="208.02" y1="229.31" x2="266.11" y2="274.70"/><line x1="205.74" y1="232.23" x2="263.84" y2="277.62"/><line x1="203.47" y1="235.14" x2="261.56" y2="280.53"/><line x1="201.19" y1="238.06" x2="259.28" y2="283.45"/><line x1="198.91" y1="240.98" x2="257.00" y2="286.36"/><line x1="196.63" y1="243.89" x2="254.72" y2="289.28"/><line x1="194.35" y1="246.81" x2="252.45" y2="292.19"/><line x1="192.08" y1="249.72" x2="250.17" y2="295.11"/><line x1="189.80" y1="252.64" x2="247.89" y2="298.02"/><line x1="187.52" y1="255.55" x2="245.61" y2="300.94"/><line x1="185.24" y1="258.47" x2="243.33" y2="303.86"/><line x1="182.96" y1="261.38" x2="241.06" y2="306.77"/><line x1="180.69" y1="264.30" x2="238.78" y2="309.69"/><line x1="178.41" y1="267.22" x2="236.50" y2="312.60"/><line x1="176.13" y1="270.13" x2="234.22" y2="315.52"/><line x1="173.85" y1="273.05" x2="231.94" y2="318.43"/></g>
<path d="M227.60,237.40 L222.10,237.40 L222.10,264.50 L219.20,267.40 L219.20,272.20 L221.80,274.50 L221.80,303.20 L226.80,303.20 L227.60,285.00 Z" fill="none" stroke-width="1.1"/>
<path d="M214.40,235.80 L211.30,235.80 L211.30,303.20 L214.70,303.20 L214.70,274.50 L216.80,272.20 L216.80,267.40 L214.40,264.50 Z" fill="#fff" stroke="none"/>
<clipPath id="c10"><path d="M214.40,235.80 L211.30,235.80 L211.30,303.20 L214.70,303.20 L214.70,274.50 L216.80,272.20 L216.80,267.40 L214.40,264.50 Z"/></clipPath>
<g clip-path="url(#c10)" stroke="#111" stroke-width="1.1"><line x1="208.64" y1="216.66" x2="266.44" y2="261.82"/><line x1="206.42" y1="219.50" x2="264.23" y2="264.66"/><line x1="204.21" y1="222.33" x2="262.01" y2="267.49"/><line x1="201.99" y1="225.17" x2="259.79" y2="270.33"/><line x1="199.77" y1="228.01" x2="257.58" y2="273.17"/><line x1="197.56" y1="230.84" x2="255.36" y2="276.01"/><line x1="195.34" y1="233.68" x2="253.15" y2="278.84"/><line x1="193.12" y1="236.52" x2="250.93" y2="281.68"/><line x1="190.91" y1="239.35" x2="248.71" y2="284.52"/><line x1="188.69" y1="242.19" x2="246.50" y2="287.35"/><line x1="186.48" y1="245.03" x2="244.28" y2="290.19"/><line x1="184.26" y1="247.86" x2="242.06" y2="293.03"/><line x1="182.04" y1="250.70" x2="239.85" y2="295.86"/><line x1="179.83" y1="253.54" x2="237.63" y2="298.70"/><line x1="177.61" y1="256.38" x2="235.41" y2="301.54"/><line x1="175.39" y1="259.21" x2="233.20" y2="304.37"/><line x1="173.18" y1="262.05" x2="230.98" y2="307.21"/><line x1="170.96" y1="264.89" x2="228.76" y2="310.05"/><line x1="168.74" y1="267.72" x2="226.55" y2="312.88"/><line x1="166.53" y1="270.56" x2="224.33" y2="315.72"/><line x1="164.31" y1="273.40" x2="222.12" y2="318.56"/><line x1="162.10" y1="276.23" x2="219.90" y2="321.39"/></g>
<path d="M214.40,235.80 L211.30,235.80 L211.30,303.20 L214.70,303.20 L214.70,274.50 L216.80,272.20 L216.80,267.40 L214.40,264.50 Z" fill="none" stroke-width="1.1"/>
<line x1="219.20" y1="267.40" x2="216.80" y2="267.40" stroke-width="1.0" />
<line x1="219.20" y1="272.20" x2="216.80" y2="272.20" stroke-width="1.0" />
<rect x="173.8" y="231" width="3.0" height="72.2" fill="#222" stroke="#111" stroke-width="0.6"/>
<line x1="175.30" y1="232.00" x2="175.30" y2="303.00" stroke-width="1.0" stroke-dasharray="1.2 2.55" stroke="#fff"/>
<line x1="175.20" y1="296.00" x2="175.20" y2="311.50" stroke-width="1.0" stroke-dasharray="6 2"/>
<path d="M176.6,303 Q177.2,288 184.6,287.4 Q187.6,287.4 189.2,289.6" stroke-width="1.05" fill="none" />
<path d="M226.3,303 A12.8,15.8 0 0 1 251.9,303" stroke-width="1.05" fill="none" />
<rect x="235.80" y="287.30" width="3.20" height="15.90" fill="url(#h2)" stroke-width="1.0"/>
<line x1="237.40" y1="285.80" x2="237.40" y2="287.40" stroke-width="1.0" />
<line x1="240.60" y1="296.00" x2="240.60" y2="304.50" stroke-width="1.0" stroke-dasharray="3 1.5"/>
<g transform="translate(36.4,370.7) scale(1,1)" stroke="none">
<text font-size="23.6" style="fill:#17176e;stroke:#17176e;stroke-width:1.7px;stroke-linejoin:miter"><tspan x="0.4" y="0" textLength="53.6" lengthAdjust="spacingAndGlyphs">Truck</tspan><tspan x="55.6" y="1.5" textLength="6.6" lengthAdjust="spacingAndGlyphs" style="stroke-width:1.3px">-</tspan><tspan x="63.0" y="1.9" font-size="24.5" textLength="33.6" lengthAdjust="spacingAndGlyphs" style="font-family:'Liberation Serif',serif;font-style:italic;font-weight:bold;fill:#e0641c;stroke:#e0641c;stroke-width:0.3px">ing</tspan></text>
<path d="M66.6,-10.6 Q69.5,-14.5 71.6,-17.6 L73.0,-16.8 Q71.5,-13 68.6,-9.4 Z" fill="#e0641c"/>
<path d="M-1,10.4 C20,10.4 35,7 54,4.5 C65,3.2 74,3.8 80,5.0 L80.6,7.4 C74,5.6 65,5.4 54,6.9 C35,9.8 20,13.6 -1,13.6 Z" fill="#17176e"/>
</g>
<g transform="translate(216.75,148.2) scale(0.77,0.745)" stroke="none">
<text font-size="23.6" style="fill:#111;stroke:#111;stroke-width:1.7px;stroke-linejoin:miter"><tspan x="0.4" y="0" textLength="53.6" lengthAdjust="spacingAndGlyphs">Truck</tspan><tspan x="55.6" y="1.5" textLength="6.6" lengthAdjust="spacingAndGlyphs" style="stroke-width:1.3px">-</tspan><tspan x="63.0" y="1.9" font-size="24.5" textLength="33.6" lengthAdjust="spacingAndGlyphs" style="font-family:'Liberation Serif',serif;font-style:italic;font-weight:bold;fill:#111;stroke:#111;stroke-width:0.3px">ing</tspan></text>
<path d="M66.6,-10.6 Q69.5,-14.5 71.6,-17.6 L73.0,-16.8 Q71.5,-13 68.6,-9.4 Z" fill="#111"/>
<path d="M-1,10.4 C20,10.4 35,7 54,4.5 C65,3.2 74,3.8 80,5.0 L80.6,7.4 C74,5.6 65,5.4 54,6.9 C35,9.8 20,13.6 -1,13.6 Z" fill="#111"/>
</g>
</svg>
</body></html>
